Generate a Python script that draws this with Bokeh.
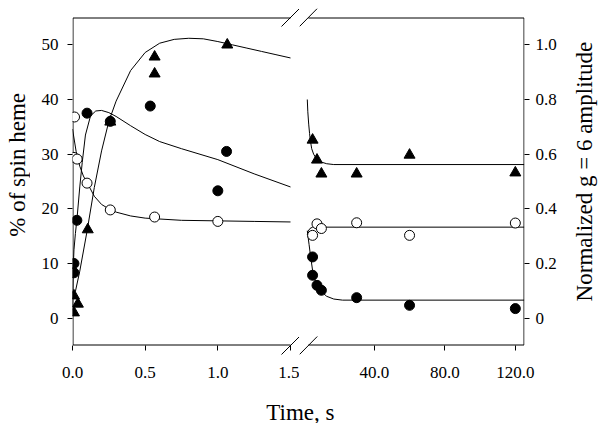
import math
from bokeh.plotting import figure
from bokeh.models import Range1d, LinearAxis, FixedTicker, Label, NumeralTickFormatter
from bokeh.layouts import row, column
from bokeh.embed import file_html
from bokeh.resources import INLINE

FONT = "Liberation Serif"

# ---------------- early time panel (0 - 1.5 s), left axis: % of spin heme
t_open_early = [0.014, 0.01, 0.032, 0.10, 0.26, 0.565, 1.0]
v_open_early = [36.8, 29.4, 29.1, 24.7, 19.8, 18.5, 17.7]
t_fill_early = [0.01, 0.01, 0.03, 0.10, 0.26, 0.535, 1.0, 1.06]
v_fill_early = [10.0, 8.3, 17.9, 37.5, 36.0, 38.8, 23.3, 30.5]
t_tri_early = [0.01, 0.01, 0.037, 0.105, 0.26, 0.565, 0.565, 1.065]
v_tri_early = [1.0, 4.1, 2.6, 16.2, 35.9, 47.8, 44.7, 50.0]

# fitted curves, early panel
tc_tri_early = [0, 0.02, 0.05, 0.1, 0.15, 0.2, 0.25, 0.3, 0.4, 0.5, 0.6, 0.7, 0.8, 0.9,
                1.0, 1.1, 1.2, 1.3, 1.4, 1.5]
vc_tri_early = [3.5, 4.9, 8.6, 15.9, 23.9, 30.6, 36.0, 39.7, 45.3, 48.6, 50.3, 51.0, 51.2,
                51.1, 50.6, 50.0, 49.4, 48.8, 48.2, 47.6]
tc_fill_early = [0, 0.005, 0.01, 0.02, 0.032, 0.05, 0.067, 0.089, 0.124, 0.16, 0.2, 0.25,
                 0.3, 0.4, 0.5, 0.6, 0.75, 1.0, 1.25, 1.5]
vc_fill_early = [2.0, 9.0, 12.5, 15.5, 18.5, 24.0, 28.5, 33.5, 37.0, 37.9, 38.0, 37.6,
                 36.9, 35.2, 33.6, 32.3, 31.0, 29.0, 26.4, 24.0]
tc_open_early = [0, 0.025, 0.05, 0.075, 0.1, 0.15, 0.2, 0.25, 0.3, 0.4, 0.5, 0.75, 1.0,
                 1.25, 1.5]
vc_open_early = [34.6, 30.5, 27.8, 26.0, 24.8, 22.3, 20.8, 20.0, 19.4, 18.7, 18.3, 17.9,
                 17.8, 17.7, 17.6]

# ---------------- late time panel (s), right axis: normalized g = 6 amplitude
t_late = [5, 7.5, 10, 30, 60, 120]
tri_late = [0.652, 0.579, 0.528, 0.528, 0.597, 0.532]
open_late = [0.303, 0.345, 0.328, 0.349, 0.303, 0.348]
t_fill_late = [5, 5, 7.5, 10, 30, 60, 120]
fill_late = [0.224, 0.157, 0.12, 0.102, 0.075, 0.047, 0.035]

tc_tri_late = [2.0, 2.3, 2.8, 3.3, 3.75, 4.5, 5.6, 7.0, 8.4, 10, 13, 17, 125]
vc_tri_late = [0.80, 0.755, 0.71, 0.675, 0.65, 0.62, 0.60, 0.585, 0.577, 0.571, 0.565,
               0.562, 0.562]
tc_open_late = [2.0, 2.5, 3.5, 5, 125]
vc_open_late = [0.305, 0.318, 0.328, 0.333, 0.333]
tc_fill_late = [2.0, 3, 4, 5, 6, 7.5, 10, 13, 17, 22, 125]
vc_fill_late = [0.32, 0.27, 0.22, 0.175, 0.145, 0.12, 0.097, 0.08, 0.07, 0.066, 0.066]

# ticks
x_ticks_early = [0, 0.5, 1.0, 1.5]
x_ticks_late = [40, 80, 120]
y_ticks_left = [0, 10, 20, 30, 40, 50]
y_ticks_right = [0, 0.2, 0.4, 0.6, 0.8, 1.0]

# axis extents (data) of the two panels
EARLY_X = (0, 1.5)
LATE_X = (1.5, 125.2)
LEFT_Y = (-5, 55)
RIGHT_Y = (-0.1, 1.1)

# pixel geometry
H = 385          # height of plot row
TOP = 8          # canvas px above the frame
PAD = 9          # frame px above the upper y-extent (room for the break marks)
PADB = 10        # frame px below the lower y-extent (room for the break marks)
AX_H = 328       # px between y-extent ends
KX1 = 218 / (EARLY_X[1] - EARLY_X[0])
KX2 = 221 / (LATE_X[1] - LATE_X[0])
KY1 = AX_H / (LEFT_Y[1] - LEFT_Y[0])
KY2 = AX_H / (RIGHT_Y[1] - RIGHT_Y[0])
HALF = 9         # half size of the break marks, px
BOTTOM = H - TOP - PAD - AX_H - PADB


def style_axis(ax, standoff, tick_in=0, tick_out=5):
    ax.axis_line_color = None
    ax.major_tick_line_color = "black"
    ax.major_tick_line_width = 1
    ax.major_tick_out = tick_out
    ax.major_tick_in = tick_in
    ax.minor_tick_line_color = None
    ax.major_label_text_font = FONT
    ax.major_label_text_font_size = "17px"
    ax.major_label_text_color = "black"
    ax.major_label_standoff = standoff


def bare(p):
    p.outline_line_color = None
    p.grid.visible = False


# ---------------- left axis title
p0 = figure(width=30, height=H, x_range=Range1d(0, 1), y_range=Range1d(0, 1),
            output_backend="svg", toolbar_location=None,
            x_axis_location=None, y_axis_location=None, min_border=0)
bare(p0)
p0.add_layout(Label(x=16.5 / 30, y=(H - 173.5) / H, text="% of spin heme",
                    angle=math.pi / 2, text_align="center", text_baseline="middle",
                    text_font=FONT, text_font_size="23px", text_color="black"))

# ---------------- left panel
x1r = Range1d(EARLY_X[0], EARLY_X[1] + HALF / KX1)
y1r = Range1d(LEFT_Y[0] - PADB / KY1, LEFT_Y[1] + PAD / KY1)
p1 = figure(width=269, height=H, x_range=x1r, y_range=y1r,
            output_backend="svg", toolbar_location=None,
            x_axis_location=None, y_axis_location=None,
            min_border_left=42, min_border_right=0, min_border_top=TOP,
            min_border_bottom=BOTTOM)
bare(p1)
yl = LinearAxis(ticker=FixedTicker(ticks=y_ticks_left))
style_axis(yl, 9)
p1.add_layout(yl, "left")
# axis sits PADB px below the lower frame line; ticks reach up to that line
xb1 = LinearAxis(ticker=FixedTicker(ticks=x_ticks_early),
                 formatter=NumeralTickFormatter(format="0.0"))
style_axis(xb1, 11, tick_in=PADB, tick_out=5 - PADB)
p1.add_layout(xb1, "below")

# frame of the left panel: top, left and bottom sides as one path
ex0 = EARLY_X[0] + 0.5 / KX1
ey0 = LEFT_Y[0] + 0.5 / KY1
ey1 = LEFT_Y[1] - 0.5 / KY1
p1.line([EARLY_X[1], ex0, ex0, EARLY_X[1]], [ey1, ey1, ey0, ey0],
        line_color="black", line_width=1)
# break marks
for yc in (LEFT_Y[1], LEFT_Y[0]):
    p1.line([EARLY_X[1] - HALF / KX1, EARLY_X[1] + HALF / KX1],
            [yc - HALF / KY1, yc + HALF / KY1], line_color="black", line_width=1)

p1.line(tc_tri_early, vc_tri_early, line_color="black", line_width=1)
p1.line(tc_fill_early, vc_fill_early, line_color="black", line_width=1)
p1.line(tc_open_early, vc_open_early, line_color="black", line_width=1)
p1.scatter(t_open_early, v_open_early, marker="circle", size=10, fill_color="white",
           line_color="black", line_width=1)
p1.scatter(t_fill_early, v_fill_early, marker="circle", size=10, fill_color="black",
           line_color="black", line_width=1)
p1.scatter(t_tri_early, v_tri_early, marker="triangle", size=11, fill_color="black",
           line_color="black", line_width=1)

# ---------------- right panel
x2r = Range1d(LATE_X[0] - 7 / KX2, LATE_X[1])
y2r = Range1d(RIGHT_Y[0] - PADB / KY2, RIGHT_Y[1] + PAD / KY2)
p2 = figure(width=260, height=H, x_range=x2r, y_range=y2r,
            output_backend="svg", toolbar_location=None,
            x_axis_location=None, y_axis_location=None,
            min_border_left=0, min_border_right=32, min_border_top=TOP,
            min_border_bottom=BOTTOM)
bare(p2)
yr = LinearAxis(ticker=FixedTicker(ticks=y_ticks_right),
                formatter=NumeralTickFormatter(format="0.0"),
                major_label_overrides={0: "0"})
style_axis(yr, 6)
p2.add_layout(yr, "right")
xb2 = LinearAxis(ticker=FixedTicker(ticks=x_ticks_late),
                 formatter=NumeralTickFormatter(format="0.0"))
style_axis(xb2, 11, tick_in=PADB, tick_out=5 - PADB)
p2.add_layout(xb2, "below")

x_break2 = LATE_X[0] + 2 / KX2
lx1 = LATE_X[1] - 0.5 / KX2
ly0 = RIGHT_Y[0] + 0.5 / KY2
ly1 = RIGHT_Y[1] - 0.5 / KY2
p2.line([x_break2, lx1, lx1, x_break2], [ly1, ly1, ly0, ly0],
        line_color="black", line_width=1)
for yc in (RIGHT_Y[1], RIGHT_Y[0]):
    p2.line([x_break2 - HALF / KX2, x_break2 + HALF / KX2],
            [yc - HALF / KY2, yc + HALF / KY2], line_color="black", line_width=1)

p2.line(tc_tri_late, vc_tri_late, line_color="black", line_width=1)
p2.line(tc_open_late, vc_open_late, line_color="black", line_width=1)
p2.line(tc_fill_late, vc_fill_late, line_color="black", line_width=1)
p2.scatter(t_late, open_late, marker="circle", size=10, fill_color="white",
           line_color="black", line_width=1)
p2.scatter(t_fill_late, fill_late, marker="circle", size=10, fill_color="black",
           line_color="black", line_width=1)
p2.scatter(t_late, tri_late, marker="triangle", size=11, fill_color="black",
           line_color="black", line_width=1)

# ---------------- right axis title
p4 = figure(width=42, height=H, x_range=Range1d(0, 1), y_range=Range1d(0, 1),
            output_backend="svg", toolbar_location=None,
            x_axis_location=None, y_axis_location=None, min_border=0)
bare(p4)
p4.add_layout(Label(x=24.5 / 42, y=(H - 181) / H, text="Normalized g = 6 amplitude",
                    angle=math.pi / 2, text_align="center", text_baseline="middle",
                    text_font=FONT, text_font_size="23px", text_color="black"))

# ---------------- shared x-axis title
p3 = figure(width=601, height=423 - H, x_range=Range1d(0, 1), y_range=Range1d(0, 1),
            output_backend="svg", toolbar_location=None,
            x_axis_location=None, y_axis_location=None, min_border=0)
bare(p3)
p3.add_layout(Label(x=0.499, y=11 / (423 - H), text="Time, s", text_align="center",
                    text_baseline="alphabetic", text_font=FONT, text_font_size="23px",
                    text_color="black"))

layout = column(row(p0, p1, p2, p4), p3)
open("out.html", "w").write(file_html(layout, INLINE))
